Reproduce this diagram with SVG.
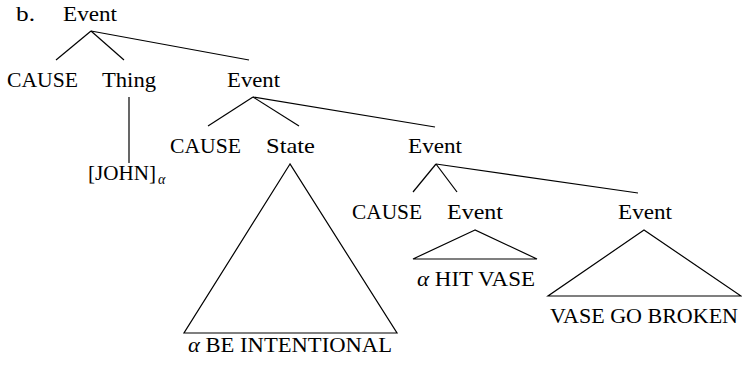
<svg xmlns="http://www.w3.org/2000/svg" width="742" height="366" viewBox="0 0 742 366">
<style>
text{font-family:"Liberation Serif","DejaVu Serif","Times New Roman",serif;font-size:22px;fill:#000}
.a{font-style:italic}
.s{font-size:14px;font-style:italic}
line,polygon{stroke:#000;stroke-width:1.2;fill:none}
</style>
<rect width="742" height="366" fill="#fff"/>
<g id="label-b"><text x="16" y="21" textLength="19" lengthAdjust="spacingAndGlyphs">b.</text></g>
<g id="n-root"><text x="63" y="21" textLength="54" lengthAdjust="spacingAndGlyphs">Event</text></g>
<g id="n-cause1"><text x="7" y="87" textLength="71" lengthAdjust="spacingAndGlyphs">CAUSE</text></g>
<g id="n-thing"><text x="102" y="87" textLength="54" lengthAdjust="spacingAndGlyphs">Thing</text></g>
<g id="n-john"><text x="88" y="180" textLength="68" lengthAdjust="spacingAndGlyphs">[JOHN]</text><text class="s" x="158" y="184">α</text></g>
<g id="n-event2"><text x="227" y="87" textLength="53" lengthAdjust="spacingAndGlyphs">Event</text></g>
<g id="n-cause2"><text x="170" y="153" textLength="71" lengthAdjust="spacingAndGlyphs">CAUSE</text></g>
<g id="n-state"><text x="266" y="153" textLength="49" lengthAdjust="spacingAndGlyphs">State</text></g>
<g id="n-state-tri"><polygon points="290,164 184,333 397,333"/><text x="188" y="352" textLength="204" lengthAdjust="spacingAndGlyphs"><tspan class="a">α</tspan> BE INTENTIONAL</text></g>
<g id="n-event3"><text x="408" y="153" textLength="54" lengthAdjust="spacingAndGlyphs">Event</text></g>
<g id="n-cause3"><text x="352" y="219" textLength="70" lengthAdjust="spacingAndGlyphs">CAUSE</text></g>
<g id="n-event4"><text x="447" y="219" textLength="56" lengthAdjust="spacingAndGlyphs">Event</text></g>
<g id="n-event4-tri"><polygon points="475,230 413,259 537,259"/><text x="417" y="286" textLength="118" lengthAdjust="spacingAndGlyphs"><tspan class="a">α</tspan> HIT VASE</text></g>
<g id="n-event5"><text x="618" y="219" textLength="54" lengthAdjust="spacingAndGlyphs">Event</text></g>
<g id="n-event5-tri"><polygon points="644,230 548,296 741,296"/><text x="550" y="323" textLength="188" lengthAdjust="spacingAndGlyphs">VASE GO BROKEN</text></g>
<g id="connectors">
<line x1="91" y1="31" x2="56" y2="60"/>
<line x1="91" y1="31" x2="124" y2="60"/>
<line x1="91" y1="31" x2="249" y2="60"/>
<line x1="129" y1="97" x2="129" y2="163"/>
<line x1="253" y1="97" x2="208" y2="126"/>
<line x1="253" y1="97" x2="299" y2="126"/>
<line x1="253" y1="97" x2="435" y2="127"/>
<line x1="436" y1="164" x2="413" y2="192"/>
<line x1="436" y1="164" x2="457" y2="192"/>
<line x1="436" y1="164" x2="638" y2="193"/>
</g>
</svg>
